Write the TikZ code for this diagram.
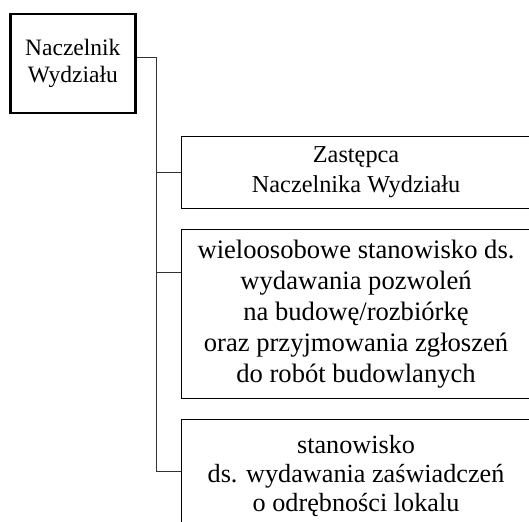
\documentclass[tikz,border=0pt]{standalone}
\usepackage{fontspec}
\setmainfont{Liberation Serif}

\tikzset{
  chief/.style={draw, line width=2.4pt, minimum width=125pt, minimum height=99pt,
    align=center, inner sep=0pt, font=\fontsize{23.5}{27}\selectfont},
  post/.style={draw, line width=1.1pt, minimum width=350pt, anchor=north west,
    align=center, inner sep=0pt},
  lower/.style={execute at begin node={\rule{0pt}{\dimexpr\fontcharht\font`\l+#1\relax}}},
  link/.style={line width=1pt, black!80}
}

\begin{document}
\begin{tikzpicture}[x=1pt,y=-1pt]
        \clip (0,0) rectangle (529,521);
        \node[chief, lower=5pt] (naczelnik) at (72.8,63.5) {Naczelnik\\Wydziału};
        \node[post, lower=4pt, minimum height=72pt, font=\fontsize{24.3}{30}\selectfont] (zastepca) at (180.5,136) {Zastępca\\Naczelnika Wydziału};
        \node[post, lower=7pt, minimum height=169pt, font=\fontsize{26.6}{30.8}\selectfont] (budowy) at (180.5,229) {wieloosobowe stanowisko ds.\\wydawania pozwoleń\\na budowę/rozbiórkę\\oraz przyjmowania zgłoszeń\\do robót budowlanych};
        \node[post, lower=2pt, minimum height=112pt, font=\fontsize{26.2}{29}\selectfont] (lokale) at (180.5,419) {stanowisko\\ds. wydawania zaświadczeń\\o odrębności lokalu};
        % branch points
        \coordinate (out) at (naczelnik.east |- 0,58);
        \coordinate (bus) at (156.5,58);
        \coordinate (in3) at (budowy.west |- 0,272);
        \coordinate (in4) at (lokale.west |- 0,471);
        \draw[link] (out) -- (bus) |- (in4);
        \draw[link] (bus |- zastepca.west) -- (zastepca.west);
        \draw[link] (bus |- in3) -- (in3);
    \end{tikzpicture}
\end{document}
